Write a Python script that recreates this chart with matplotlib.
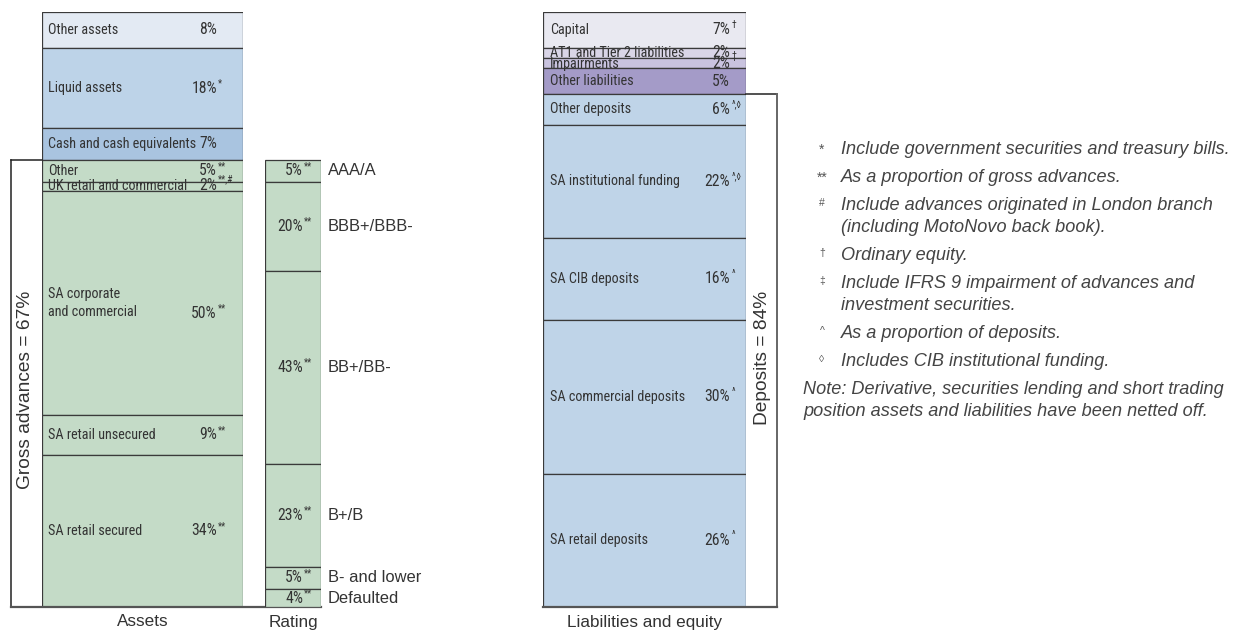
import matplotlib
matplotlib.use('Agg')
import matplotlib.pyplot as plt
from matplotlib import font_manager
import numpy as np

# --- data -------------------------------------------------------------
asset_labels = ['Other assets', 'Liquid assets', 'Cash and cash equivalents', 'Other',
                'UK retail and commercial', 'SA corporate\nand commercial',
                'SA retail unsecured', 'SA retail secured']
asset_values = np.array([8, 18, 7, 5, 2, 50, 9, 34])
asset_marks = ['', '*', '', '**', '**,#', '**', '**', '**']

rating_labels = ['AAA/A', 'BBB+/BBB-', 'BB+/BB-', 'B+/B', 'B- and lower', 'Defaulted']
rating_values = np.array([5, 20, 43, 23, 5, 4])
rating_marks = ['**'] * 6

liab_labels = ['Capital', 'AT1 and Tier 2 liabilities', 'Impairments', 'Other liabilities',
               'Other deposits', 'SA institutional funding', 'SA CIB deposits',
               'SA commercial deposits', 'SA retail deposits']
liab_values = np.array([7, 2, 2, 5, 6, 22, 16, 30, 26])
liab_marks = ['\u2020', '', '\u2021', '', '^,\u25ca', '^,\u25ca', '^', '^', '^']

gross_advances_pct = 67
deposits_pct = 84
n_advance_rows = 5   # bottom rows of the assets column are gross advances
n_deposit_rows = 5   # bottom rows of the liabilities column are deposits

footnotes = [
    ('*', ['Include government securities and treasury bills.']),
    ('**', ['As a proportion of gross advances.']),
    ('#', ['Include advances originated in London branch', '(including MotoNovo back book).']),
    ('\u2020', ['Ordinary equity.']),
    ('\u2021', ['Include IFRS 9 impairment of advances and', 'investment securities.']),
    ('^', ['As a proportion of deposits.']),
    ('\u25ca', ['Includes CIB institutional funding.']),
]
note_lines = ['Note: Derivative, securities lending and short trading',
              'position assets and liabilities have been netted off.']

# --- styles -----------------------------------------------------------
asset_colors = ['#e3eaf3', '#bdd3e8', '#a9c4e0'] + ['#c4dbc7'] * 5
rating_colors = ['#c4dbc7'] * 6
liab_colors = ['#e9e9f1', '#d9d5e7', '#c9c3df', '#a49bc8'] + ['#bfd4e8'] * 5
EDGE = '#3a3a3a'
TXT = '#333333'
LABEL_SIZE = 10.2
PCT_SIZE = 11.3

installed = {f.name for f in font_manager.fontManager.ttflist}


def pick(candidates):
    for name in candidates:
        if name in installed:
            return [name, 'DejaVu Sans']
    return ['DejaVu Sans']


NARROW = pick(['Liberation Sans Narrow', 'Arial Narrow', 'Nimbus Sans Narrow',
               'Roboto Condensed', 'Archivo Narrow', 'PT Sans Narrow', 'Pragati Narrow',
               'Fira Sans Condensed', 'IBM Plex Sans Condensed', 'DejaVu Sans Condensed'])
REGULAR = pick(['Liberation Sans', 'Arimo', 'Nimbus Sans', 'Helvetica', 'Arial', 'Roboto'])

W, H = 1238, 630
fig = plt.figure(figsize=(W / 100, H / 100), dpi=100)


def px_axes(left, top, right, bottom):
    return fig.add_axes([left / W, 1 - bottom / H, (right - left) / W, (bottom - top) / H])


def draw_stack(ax, values, colors, ylim):
    # rows are listed top to bottom; stack them down from their total
    tops = values.sum() - np.concatenate([[0], np.cumsum(values)[:-1]])
    bottoms = tops - values
    ax.bar(0.5, values, width=1, bottom=bottoms, color=colors,
           edgecolor=EDGE, linewidth=0.9)
    ax.set_xlim(0, 1)
    ax.set_ylim(0, ylim)
    ax.axis('off')
    return bottoms + values / 2


def row_texts(ax, labels, marks, centers, x_label, x_pct, values):
    tr = ax.get_yaxis_transform()
    for lab, mk, yc, v in zip(labels, marks, centers, values):
        nl = lab.count('\n')
        if v <= 2:
            # thin rows: text sits on the row's bottom rule
            y, va, dy = yc - v / 2, 'baseline', 0.5
        else:
            y, va, dy = yc, 'center', 0
        ax.annotate(lab, xy=(x_label, y), xycoords=tr, xytext=(0, dy),
                    textcoords='offset points', ha='left', va=va,
                    family=NARROW, fontsize=LABEL_SIZE, color=TXT, linespacing=1.35)
        ax.annotate(f'{v}%', xy=(x_pct, y), xycoords=tr,
                    xytext=(0, dy - nl * 7.5), textcoords='offset points',
                    ha='right', va=va, family=NARROW, fontsize=PCT_SIZE, color=TXT)
        if mk:
            ax.annotate(mk, xy=(x_pct, y), xycoords=tr,
                        xytext=(1, dy + (6 if v <= 2 else 3.5) - nl * 7.5),
                        textcoords='offset points', ha='left', va=va,
                        family=NARROW, fontsize=7, color=TXT)


# --- assets column ----------------------------------------------------
ax_a = px_axes(42, 12, 243, 607)
a_total = asset_values.sum()
a_centers = draw_stack(ax_a, asset_values, asset_colors, a_total)
row_texts(ax_a, asset_labels, asset_marks, a_centers, 6 / 201, 175 / 201, asset_values)

# gross advances bracket and baseline
adv_top = asset_values[-n_advance_rows:].sum()
ya = ax_a.get_yaxis_transform()
xb = -31 / 201
ax_a.plot([xb, 0], [adv_top, adv_top], transform=ya, color='#222222', lw=1.1, clip_on=False)
ax_a.plot([xb, xb], [adv_top, 0], transform=ya, color='#222222', lw=1.1, clip_on=False)
ax_a.plot([xb, 279 / 201], [0, 0], transform=ya, color='#555555', lw=1.6, clip_on=False)
ax_a.text(-16 / 201, adv_top / 2 - 1.5, f'Gross advances = {gross_advances_pct}%', transform=ya,
          rotation=90, ha='center', va='center', family=REGULAR, fontsize=13.8, color=TXT)
ax_a.text(0.5, -15 / 595, 'Assets', transform=ax_a.transAxes, ha='center', va='center',
          family=REGULAR, fontsize=12.3, color=TXT)

# --- rating column ----------------------------------------------------
ax_r = px_axes(265, 12, 321, 607)
r_centers = draw_stack(ax_r, rating_values, rating_colors, a_total)
yr = ax_r.get_yaxis_transform()
for lab, mk, yc, v in zip(rating_labels, rating_marks, r_centers, rating_values):
    ax_r.annotate(f'{v}%', xy=(38 / 56, yc), xycoords=yr, ha='right', va='center',
                  family=NARROW, fontsize=PCT_SIZE, color=TXT)
    ax_r.annotate(mk, xy=(38 / 56, yc), xycoords=yr, xytext=(1, 3.5),
                  textcoords='offset points', ha='left', va='center',
                  family=NARROW, fontsize=7, color=TXT)
    ax_r.text(63 / 56, yc, lab, transform=yr, ha='left', va='center',
              family=REGULAR, fontsize=11.9, color=TXT)
ax_r.text(0.5, -15 / 595, 'Rating', transform=ax_r.transAxes, ha='center', va='center',
          family=REGULAR, fontsize=12.3, color=TXT)

# --- liabilities and equity column -----------------------------------
ax_l = px_axes(543, 12, 746, 607)
l_total = liab_values.sum()
l_centers = draw_stack(ax_l, liab_values, liab_colors, l_total)
row_texts(ax_l, liab_labels, liab_marks, l_centers, 7 / 203, 187 / 203, liab_values)

dep_top = liab_values[-n_deposit_rows:].sum()
yl = ax_l.get_yaxis_transform()
xd = 1 + 31 / 203
ax_l.plot([1, xd], [dep_top, dep_top], transform=yl, color='#222222', lw=1.1, clip_on=False)
ax_l.plot([xd, xd], [dep_top, 0], transform=yl, color='#666666', lw=1.4, clip_on=False)
ax_l.plot([0, xd], [0, 0], transform=yl, color='#555555', lw=1.6, clip_on=False)
ax_l.text(1 + 16 / 203, dep_top / 2 - 1.5, f'Deposits = {deposits_pct}%', transform=yl,
          rotation=90, ha='center', va='center', family=REGULAR, fontsize=13.8, color=TXT)
ax_l.text(0.5, -15 / 595, 'Liabilities and equity', transform=ax_l.transAxes,
          ha='center', va='center', family=REGULAR, fontsize=12.3, color=TXT)

# --- footnotes --------------------------------------------------------
ax_n = fig.add_axes([0, 0, 1, 1], zorder=-1)
ax_n.set_xlim(0, W)
ax_n.set_ylim(H, 0)
ax_n.axis('off')

NOTE_SIZE = 13.1
y = 150
for mark, lines in footnotes:
    small = mark not in ('*', '**')
    ax_n.text(822, y - (3 if small else 0), mark, ha='center', va='center',
              family=REGULAR, fontsize=7.5 if small else 10, color='#555555')
    for i, line in enumerate(lines):
        ax_n.text(841, y + i * 22, line, ha='left', va='center', family=REGULAR,
                  style='italic', fontsize=NOTE_SIZE, color='#444444')
    y += 22 * (len(lines) - 1) + 28
for i, line in enumerate(note_lines):
    ax_n.text(803, y + i * 22, line, ha='left', va='center', family=REGULAR,
              style='italic', fontsize=NOTE_SIZE, color='#444444')

fig.savefig('out.png', dpi=100, facecolor='white')
